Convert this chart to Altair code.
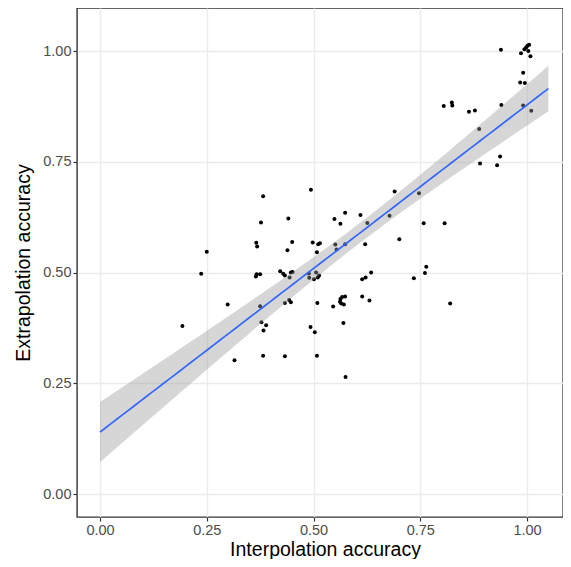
import altair as alt
import numpy as np
import pandas as pd

interp = [0.939, 0.986, 0.994, 0.998, 1.001, 1.005, 1.003, 1.008, 0.991, 0.984, 0.995,
          0.805, 0.824, 0.825, 0.864, 0.878, 0.940, 0.991, 1.010, 0.888, 0.937, 0.890, 0.930,
          0.690, 0.747, 0.610, 0.626, 0.678, 0.758, 0.807, 0.701, 0.621, 0.764, 0.761, 0.635,
          0.622, 0.614, 0.735, 0.614, 0.631, 0.820,
          0.382, 0.494, 0.377, 0.441, 0.549, 0.574, 0.563, 0.450, 0.439, 0.366, 0.368, 0.250,
          0.498, 0.511, 0.515, 0.508, 0.551, 0.554, 0.574, 0.237, 0.365, 0.367, 0.375, 0.422,
          0.429, 0.433, 0.444, 0.447, 0.451, 0.489, 0.490, 0.501, 0.506, 0.510, 0.513, 0.299,
          0.375, 0.443, 0.447, 0.433, 0.509, 0.546, 0.563, 0.567, 0.574, 0.565, 0.571, 0.562,
          0.193, 0.378, 0.389, 0.383, 0.493, 0.503, 0.570, 0.315, 0.382, 0.433, 0.508, 0.575]
extrap = [1.003, 0.995, 1.004, 1.008, 1.012, 1.014, 1.000, 0.988, 0.951, 0.929, 0.928,
          0.876, 0.884, 0.877, 0.863, 0.866, 0.878, 0.877, 0.865, 0.824, 0.762, 0.746, 0.742,
          0.683, 0.679, 0.630, 0.612, 0.628, 0.611, 0.611, 0.575, 0.564, 0.513, 0.499, 0.500,
          0.489, 0.485, 0.487, 0.446, 0.437, 0.430,
          0.672, 0.687, 0.613, 0.622, 0.621, 0.635, 0.610, 0.569, 0.550, 0.567, 0.559, 0.547,
          0.568, 0.564, 0.566, 0.546, 0.563, 0.552, 0.564, 0.497, 0.491, 0.496, 0.496, 0.503,
          0.497, 0.493, 0.489, 0.500, 0.501, 0.498, 0.488, 0.485, 0.500, 0.489, 0.493, 0.428,
          0.424, 0.438, 0.433, 0.431, 0.431, 0.423, 0.440, 0.445, 0.446, 0.430, 0.428, 0.434,
          0.379, 0.388, 0.381, 0.369, 0.377, 0.365, 0.386, 0.302, 0.312, 0.311, 0.312, 0.264]

x_ticks = [0.0, 0.25, 0.5, 0.75, 1.0]
y_ticks = [0.0, 0.25, 0.5, 0.75, 1.0]

pts = pd.DataFrame({"x": interp, "y": extrap})

# linear fit with 95% confidence band (as geom_smooth(method="lm"))
xa = np.array(interp)
ya = np.array(extrap)
n = len(xa)
b, a = np.polyfit(xa, ya, 1)
resid = ya - (a + b * xa)
s = np.sqrt(np.sum(resid ** 2) / (n - 2))
sxx = np.sum((xa - xa.mean()) ** 2)
tq = 1.984
xg = np.linspace(0.0, 1.05, 80)
fit = a + b * xg
se = s * np.sqrt(1.0 / n + (xg - xa.mean()) ** 2 / sxx)
band = pd.DataFrame({"x": xg, "fit": fit, "lo": fit - tq * se, "hi": fit + tq * se})

xscale = alt.Scale(domain=[-0.0539, 1.0843], nice=False, zero=False)
yscale = alt.Scale(domain=[-0.0519, 1.0971], nice=False, zero=False)

FONT = "Liberation Sans"
xaxis = alt.Axis(values=x_ticks, format=".2f", title="Interpolation accuracy",
                 grid=True, gridColor="#EBEBEB", gridWidth=1.3,
                 domain=False, tickColor="#333333", tickSize=4, tickWidth=1.2,
                 labelColor="#4D4D4D", labelFontSize=14.5, labelFont=FONT,
                 labelPadding=2, titleFont=FONT, titleFontSize=19.5,
                 titleFontWeight="normal", titleColor="#000000",
                 titleBaseline="alphabetic", titleY=38, titleX=248)
yaxis = alt.Axis(values=y_ticks, format=".2f", title="Extrapolation accuracy",
                 grid=True, gridColor="#EBEBEB", gridWidth=1.3,
                 domain=False, tickColor="#333333", tickSize=4, tickWidth=1.2,
                 labelColor="#4D4D4D", labelFontSize=14.5, labelFont=FONT,
                 labelPadding=2, titleFont=FONT, titleFontSize=19.5,
                 titleFontWeight="normal", titleColor="#000000", titlePadding=9)

points = alt.Chart(pts).mark_circle(color="#000000", opacity=1, size=16).encode(
    x=alt.X("x:Q", scale=xscale, axis=xaxis),
    y=alt.Y("y:Q", scale=yscale, axis=yaxis),
)
ribbon = alt.Chart(band).mark_area(color="#999999", opacity=0.4).encode(
    x=alt.X("x:Q", scale=xscale),
    y=alt.Y("lo:Q", scale=yscale),
    y2="hi:Q",
)
line = alt.Chart(band).mark_line(color="#3366FF", strokeWidth=1.7).encode(
    x=alt.X("x:Q", scale=xscale),
    y=alt.Y("fit:Q", scale=yscale),
)

chart = alt.layer(points, ribbon, line).properties(
    width=486, height=509,
    autosize=alt.AutoSizeParams(type="none"),
    padding={"left": 69, "top": 0, "right": 0, "bottom": 42},
).configure_view(stroke="#333333", strokeWidth=1.4)

chart.save("out.html", embed_options={"renderer": "svg", "actions": False})
